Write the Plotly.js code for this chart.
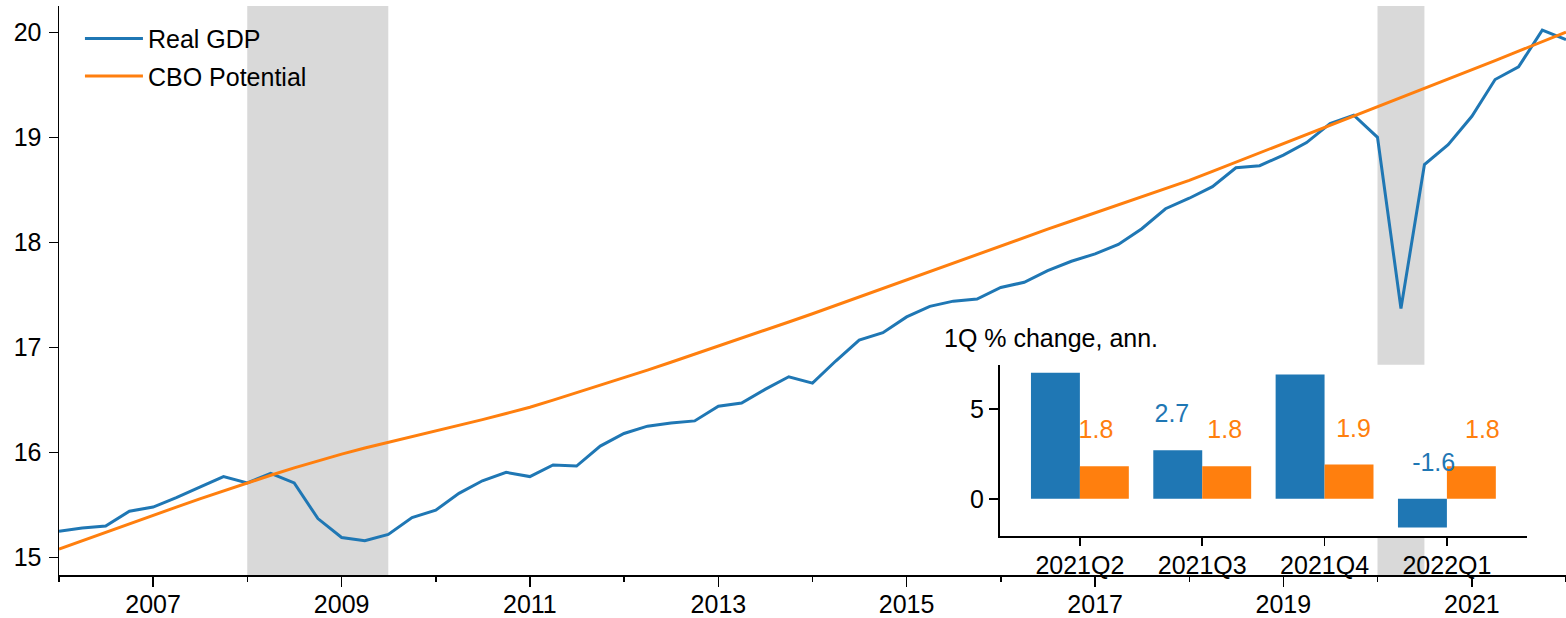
<!DOCTYPE html>
<html>
<head>
<meta charset="utf-8">
<script src="https://cdn.plot.ly/plotly-3.0.1.min.js"></script>
<style>
  html, body { margin: 0; padding: 0; background: #ffffff; }
  #chart { width: 1566px; height: 618px; }
</style>
</head>
<body>
<div id="chart"></div>
<script>
// ---------------- DATA ----------------
// Quarterly series, 2006Q1 .. 2022Q1 (trillions, chained dollars)
const startYear = 2006;
const realGDP = [
  15.25, 15.28, 15.30, 15.44,
  15.48, 15.57, 15.67, 15.77,
  15.71, 15.80, 15.71, 15.37,
  15.19, 15.16, 15.22, 15.38,
  15.45, 15.61, 15.73, 15.81,
  15.77, 15.88, 15.87, 16.06,
  16.18, 16.25, 16.28, 16.30,
  16.44, 16.47, 16.60, 16.72,
  16.66, 16.87, 17.07, 17.14,
  17.29, 17.39, 17.44, 17.46,
  17.57, 17.62, 17.73, 17.82,
  17.89, 17.98, 18.13, 18.32,
  18.42, 18.53, 18.71, 18.73,
  18.83, 18.95, 19.13, 19.21,
  19.00, 17.37, 18.74, 18.93,
  19.20, 19.55, 19.67, 20.02,
  19.93
];
const cboPotential = [
  15.080, 15.160, 15.240, 15.320,
  15.400, 15.479, 15.557, 15.634,
  15.710, 15.783, 15.853, 15.920,
  15.984, 16.042, 16.096, 16.148,
  16.200, 16.255, 16.312, 16.370,
  16.430, 16.498, 16.568, 16.639,
  16.710, 16.784, 16.858, 16.934,
  17.010, 17.087, 17.164, 17.242,
  17.320, 17.400, 17.480, 17.560,
  17.640, 17.722, 17.805, 17.887,
  17.970, 18.048, 18.125, 18.203,
  18.280, 18.357, 18.434, 18.512,
  18.590, 18.676, 18.763, 18.851,
  18.940, 19.027, 19.115, 19.202,
  19.290, 19.377, 19.465, 19.552,
  19.640, 19.730, 19.820, 19.910,
  20.000
];
const recessionStart = ['2008-01-01', '2020-01-01'];
const recessionEnd   = ['2009-07-01', '2020-07-01'];

// Inset: 1Q % change, annualized
const insetQuarters = ['2021Q2', '2021Q3', '2021Q4', '2022Q1'];
const insetGDP = [7.0, 2.7, 6.9, -1.6];
const insetPotential = [1.8, 1.8, 1.9, 1.8];

const yTicks = [15, 16, 17, 18, 19, 20];
const insetYTicks = [0, 5];

// ---------------- BUILD ----------------
const BLUE = '#1f77b4', ORANGE = '#ff7f0e';
const FONT = 'Arial, "Liberation Sans", Helvetica, sans-serif';
const INSET_YRANGE = [-2.09, 7.44];

const dates = realGDP.map((_, i) => {
  const y = startYear + Math.floor(i / 4);
  const m = (i % 4) * 3 + 1;
  return y + '-' + String(m).padStart(2, '0') + '-01';
});

const idx = insetQuarters.map((_, i) => i);
const labelY = v => Math.max(v, 0) + 1.9;
// value labels that would sit above the inset's top edge are clipped away (as in the original)
const labelText = v => (labelY(v) < INSET_YRANGE[1] ? v.toFixed(1) : '');

const traces = [
  { type: 'scatter', mode: 'lines', x: dates, y: realGDP, name: 'Real GDP',
    legendgroup: 'a', line: { color: BLUE, width: 3 }, xaxis: 'x', yaxis: 'y' },
  { type: 'scatter', mode: 'lines', x: dates, y: cboPotential, name: 'CBO Potential',
    legendgroup: 'b', line: { color: ORANGE, width: 3 }, xaxis: 'x', yaxis: 'y' },
  { type: 'bar', x: idx, y: insetGDP, offset: -0.4, width: 0.4, name: 'Real GDP growth',
    marker: { color: BLUE, line: { width: 0 } }, xaxis: 'x2', yaxis: 'y2', showlegend: false },
  { type: 'bar', x: idx, y: insetPotential, offset: 0, width: 0.4, name: 'CBO Potential growth',
    marker: { color: ORANGE, line: { width: 0 } }, xaxis: 'x2', yaxis: 'y2', showlegend: false },
  { type: 'scatter', mode: 'text',
    x: idx.map(i => i * 1.07 - 0.318), y: insetGDP.map(labelY),
    text: insetGDP.map(labelText), textposition: 'middle center',
    textfont: { family: FONT, size: 25, color: BLUE },
    xaxis: 'x2', yaxis: 'y2', showlegend: false, cliponaxis: true, hoverinfo: 'skip' },
  { type: 'scatter', mode: 'text',
    x: idx.map(i => i * 1.053 + 0.131), y: insetPotential.map(labelY),
    text: insetPotential.map(labelText), textposition: 'middle center',
    textfont: { family: FONT, size: 25, color: ORANGE },
    xaxis: 'x2', yaxis: 'y2', showlegend: false, cliponaxis: true, hoverinfo: 'skip' }
];

const shapes = recessionStart.map((s, i) => ({
  type: 'rect', xref: 'x', yref: 'paper', x0: s, x1: recessionEnd[i], y0: 0, y1: 1,
  fillcolor: '#d9d9d9', line: { width: 0 }, layer: 'below'
}));
// white background of the inset axes
shapes.push({ type: 'rect', xref: 'x2 domain', yref: 'y2 domain', x0: 0, x1: 1, y0: 0, y1: 1,
  fillcolor: '#ffffff', line: { width: 0 }, layer: 'below' });

const axisCommon = {
  showline: true, linecolor: '#000000', linewidth: 1.5, mirror: false,
  ticks: 'outside', tickcolor: '#000000', tickwidth: 1.5,
  showgrid: false, zeroline: false,
  tickfont: { family: FONT, size: 25, color: '#000000' }
};

const layout = {
  width: 1566, height: 618,
  margin: { l: 59, r: 0, t: 6, b: 43, pad: 0 },
  paper_bgcolor: '#ffffff', plot_bgcolor: 'rgba(0,0,0,0)',
  font: { family: FONT, size: 25, color: '#000000' },
  barmode: 'overlay',
  showlegend: true,
  legend: { x: 0.0139, y: 0.983, xanchor: 'left', yanchor: 'top',
    bgcolor: 'rgba(0,0,0,0)', borderwidth: 0, itemwidth: 58,
    traceorder: 'grouped', tracegroupgap: 2,
    font: { family: FONT, size: 25, color: '#000000' } },
  xaxis: Object.assign({}, axisCommon, {
    type: 'date', range: ['2006-01-01', '2022-01-01'],
    tickmode: 'linear', tick0: '2007-01-01', dtick: 'M24', tickformat: '%Y',
    ticklen: 10, ticklabelstandoff: -4,
    minor: { ticks: 'outside', ticklen: 5, tickwidth: 1.5, tickcolor: '#000000',
      tick0: '2006-01-01', dtick: 'M12', showgrid: false },
    anchor: 'y', domain: [0, 1]
  }),
  yaxis: Object.assign({}, axisCommon, {
    range: [14.833, 20.25], tickmode: 'array', tickvals: yTicks,
    ticktext: yTicks.map(String), ticklen: 9, ticklabelstandoff: 2, anchor: 'x', domain: [0, 1]
  }),
  xaxis2: Object.assign({}, axisCommon, {
    range: [-0.657, 3.657], tickmode: 'array', tickvals: idx, ticktext: insetQuarters,
    ticklen: 8, ticklabelstandoff: -2, anchor: 'y2', domain: [0.6241, 0.9743]
  }),
  yaxis2: Object.assign({}, axisCommon, {
    range: INSET_YRANGE, tickmode: 'array', tickvals: insetYTicks,
    ticktext: insetYTicks.map(String), ticklen: 9, anchor: 'x2', domain: [0.0678, 0.3694]
  }),
  shapes: shapes,
  annotations: [
    { text: '1Q % change, ann.', xref: 'paper', yref: 'paper', x: 0.586, y: 0.4165,
      xanchor: 'left', yanchor: 'middle', showarrow: false,
      font: { family: FONT, size: 25, color: '#000000' } }
  ]
};

Plotly.newPlot('chart', traces, layout, { displayModeBar: false, staticPlot: true });
</script>
</body>
</html>
